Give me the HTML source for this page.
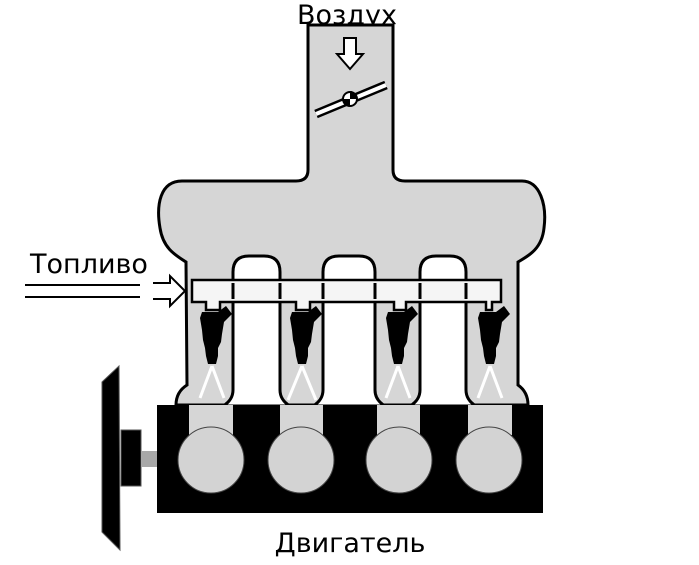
<!DOCTYPE html>
<html><head><meta charset="utf-8"><style>
html,body{margin:0;padding:0;background:#fff;}
svg{display:block;}
text{font-family:"DejaVu Sans","Liberation Sans",sans-serif;fill:#000;}
</style></head><body>
<svg width="699" height="565" viewBox="0 0 699 565">
<text x="347" y="24" font-size="27" text-anchor="middle">Воздух</text>
<text x="89" y="273" font-size="27" text-anchor="middle">Топливо</text>
<text x="350" y="552" font-size="27" text-anchor="middle">Двигатель</text>

<path fill="#d6d6d6" stroke="#000" stroke-width="3"
 d="M308,25 L308,170 Q308,181 296,181 L182,181 C160,181 156,205 160,228 C163,248 175,255 186,262 L187,385 Q176,392 176,405 L528,405 Q528,392 518,385 L518,262 C530,255 542,248 544,228 C547,205 540,181 522,181 L405,181 Q393,181 393,170 L393,25 Z"/>

<g fill="#fff" stroke="#000" stroke-width="3">
<path d="M223,406 Q233,400 233,390 L233,272 Q233,256 249,256 L264,256 Q280,256 280,272 L280,390 Q280,400 290,406 Z"/>
<path d="M313,406 Q323,400 323,390 L323,272 Q323,256 339,256 L359,256 Q375,256 375,272 L375,390 Q375,400 385,406 Z"/>
<path d="M410,406 Q420,400 420,390 L420,272 Q420,256 436,256 L450,256 Q466,256 466,272 L466,390 Q466,400 476,406 Z"/>
</g>

<g>
<line x1="316" y1="114" x2="386" y2="85" stroke="#000" stroke-width="9"/>
<line x1="316" y1="114" x2="386" y2="85" stroke="#fff" stroke-width="4"/>
<circle cx="350" cy="99" r="7" fill="#fff" stroke="#000" stroke-width="2"/>
<path d="M350,91 A7,7 0 0 1 357,99 L350,99 Z M350,99 L350,106 A7,7 0 0 1 343,99 Z" fill="#000"/>
</g>
<path d="M344,38 L356,38 L356,54 L363,54 L350,69 L337,54 L344,54 Z" fill="#fff" stroke="#000" stroke-width="2"/>

<g stroke="#000" stroke-width="2" fill="none">
<line x1="25" y1="285" x2="140" y2="285"/>
<line x1="25" y1="297" x2="140" y2="297"/>
<path d="M153,283 L170,283 L170,276 L185,291 L170,306 L170,299 L153,299" fill="#fff"/>
</g>

<g>
<path d="M192,280 L501,280 L501,302 L492,302 L492,310 L486,310 L486,302 L406,302 L406,310 L394,310 L394,302 L310,302 L310,310 L296,310 L296,302 L220,302 L220,310 L206,310 L206,302 L192,302 Z" fill="#f5f5f5" stroke="#000" stroke-width="2.5"/>
<g stroke="#000" stroke-width="3">
<line x1="233" y1="283" x2="233" y2="299"/><line x1="280" y1="283" x2="280" y2="299"/>
<line x1="323" y1="283" x2="323" y2="299"/><line x1="375" y1="283" x2="375" y2="299"/>
<line x1="420" y1="283" x2="420" y2="299"/><line x1="466" y1="283" x2="466" y2="299"/>
</g>
</g>

<g>
<g transform="translate(212,0)">
<path d="M-10,312 L6,312 L14,306 L20,314 L12,322 L10,334 L9,342 L6,348 L6,356 L4,364 L-4,364 L-6,356 L-7,348 L-9,340 L-10,330 L-12,318 Z" fill="#000"/>
<path d="M0,366 L-12,398 M0,366 L12,398" stroke="#fff" stroke-width="3"/></g>
<g transform="translate(302,0)">
<path d="M-10,312 L6,312 L14,306 L20,314 L12,322 L10,334 L9,342 L6,348 L6,356 L4,364 L-4,364 L-6,356 L-7,348 L-9,340 L-10,330 L-12,318 Z" fill="#000"/>
<path d="M0,366 L-14,400 M0,366 L14,400" stroke="#fff" stroke-width="3"/></g>
<g transform="translate(398,0)">
<path d="M-10,312 L6,312 L14,306 L20,314 L12,322 L10,334 L9,342 L6,348 L6,356 L4,364 L-4,364 L-6,356 L-7,348 L-9,340 L-10,330 L-12,318 Z" fill="#000"/>
<path d="M0,366 L-12,398 M0,366 L12,398" stroke="#fff" stroke-width="3"/></g>
<g transform="translate(490,0)">
<path d="M-10,312 L6,312 L14,306 L20,314 L12,322 L10,334 L9,342 L6,348 L6,356 L4,364 L-4,364 L-6,356 L-7,348 L-9,340 L-10,330 L-12,318 Z" fill="#000"/>
<path d="M0,366 L-12,398 M0,366 L12,398" stroke="#fff" stroke-width="3"/></g>
</g>

<g>
<rect x="157" y="405" width="386" height="108" fill="#000"/>
<rect x="189" y="405" width="44" height="30" fill="#d6d6d6"/>
<rect x="280" y="405" width="43" height="30" fill="#d6d6d6"/>
<rect x="377" y="405" width="43" height="30" fill="#d6d6d6"/>
<rect x="468" y="405" width="44" height="30" fill="#d6d6d6"/>
<circle cx="211" cy="460" r="33" fill="#d3d3d3" stroke="#444" stroke-width="1"/>
<circle cx="301" cy="460" r="33" fill="#d3d3d3" stroke="#444" stroke-width="1"/>
<circle cx="399" cy="460" r="33" fill="#d3d3d3" stroke="#444" stroke-width="1"/>
<circle cx="489" cy="460" r="33" fill="#d3d3d3" stroke="#444" stroke-width="1"/>
</g>

<g>
<path d="M102,382 L119,366 L120,550 L102,532 Z" fill="#000" stroke="#555" stroke-width="1"/>
<rect x="121" y="430" width="20" height="56" fill="#000" stroke="#555" stroke-width="1"/>
<rect x="141" y="451" width="16" height="16" fill="#a8a8a8"/>
</g>
</svg>
</body></html>
